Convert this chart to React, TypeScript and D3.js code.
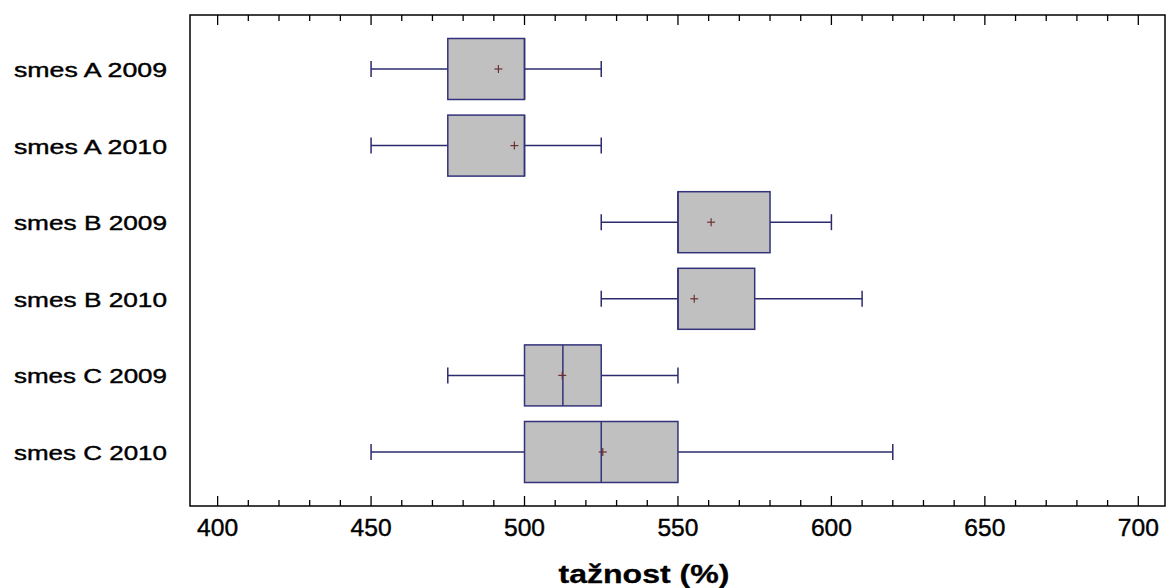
import React from "react";
import * as d3 from "d3";

const categories = ["smes A 2009", "smes A 2010", "smes B 2009", "smes B 2010", "smes C 2009", "smes C 2010"];
const mins = [450, 450, 525, 525, 475, 450];
const q1s = [475, 475, 550, 550, 500, 500];
const medians = [500, 500, 550, 550, 512.5, 525];
const q3s = [500, 500, 580, 575, 525, 550];
const maxs = [525, 525, 600, 610, 550, 620];
const means = [491.5, 496.7, 560.8, 555.3, 512.3, 525.5];
const majorTicks = [400, 450, 500, 550, 600, 650, 700];
const minorTicks = d3.range(400, 701, 10);
const xTitle = "tažnost (%)";

const W = 1170, H = 588;
const L = 190, R = 1165, T = 15, B = 506;

export default function App() {
  const x = d3.scaleLinear().domain([391, 708.7]).range([L, R]);
  const y = d3.scalePoint<string>().domain(categories).range([T, B]).padding(0.705);
  const boxH = 61;
  const capH = 16;
  const navy = "#2b2b6e";
  const font = "Liberation Sans, Arial, sans-serif";
  return (
    <svg width={W} height={H} style={{ position: "absolute", left: 0, top: 0, background: "#fff" }}>
      <rect x={0} y={0} width={W} height={H} fill="#fff" />
      {categories.map((c, i) => {
        const cy = y(c)!;
        return (
          <g key={c}>
            <line x1={x(mins[i])} x2={x(q1s[i])} y1={cy} y2={cy} stroke={navy} strokeWidth={1.5} />
            <line x1={x(q3s[i])} x2={x(maxs[i])} y1={cy} y2={cy} stroke={navy} strokeWidth={1.5} />
            <line x1={x(mins[i])} x2={x(mins[i])} y1={cy - capH / 2} y2={cy + capH / 2} stroke={navy} strokeWidth={1.5} />
            <line x1={x(maxs[i])} x2={x(maxs[i])} y1={cy - capH / 2} y2={cy + capH / 2} stroke={navy} strokeWidth={1.5} />
            <rect x={x(q1s[i])} y={cy - boxH / 2} width={x(q3s[i]) - x(q1s[i])} height={boxH} fill="#c0c0c0" stroke="#33337a" strokeWidth={1.5} />
            <line x1={x(medians[i])} x2={x(medians[i])} y1={cy - boxH / 2} y2={cy + boxH / 2} stroke="#33337a" strokeWidth={1.5} />
            <line x1={x(means[i]) - 4} x2={x(means[i]) + 4} y1={cy} y2={cy} stroke="#6b3030" strokeWidth={1.2} />
            <line x1={x(means[i])} x2={x(means[i])} y1={cy - 4} y2={cy + 4} stroke="#6b3030" strokeWidth={1.2} />
            <text x={14} y={cy + 8} fontFamily={font} fontSize={20} textLength={153} lengthAdjust="spacingAndGlyphs" fill="#000" stroke="#000" strokeWidth={0.4}>{c}</text>
          </g>
        );
      })}
      <rect x={L} y={T} width={R - L} height={B - T} fill="none" stroke="#000" strokeWidth={1.5} />
      {minorTicks.map((t) => {
        const major = t % 50 === 0;
        const len = major ? 10 : 6;
        return (
          <g key={t}>
            <line x1={x(t)} x2={x(t)} y1={B} y2={B - len} stroke="#000" strokeWidth={1.3} />
            <line x1={x(t)} x2={x(t)} y1={T} y2={T + len} stroke="#000" strokeWidth={1.3} />
          </g>
        );
      })}
      {majorTicks.map((t) => (
        <text key={t} x={x(t)} y={536} textAnchor="middle" fontFamily={font} fontSize={23} textLength={41} lengthAdjust="spacingAndGlyphs" fill="#000" stroke="#000" strokeWidth={0.4}>{t}</text>
      ))}
      <text x={644} y={583} textAnchor="middle" fontFamily={font} fontSize={26} fontWeight="bold" textLength={171} lengthAdjust="spacingAndGlyphs" fill="#000" stroke="#000" strokeWidth={0.3}>{xTitle}</text>
    </svg>
  );
}
